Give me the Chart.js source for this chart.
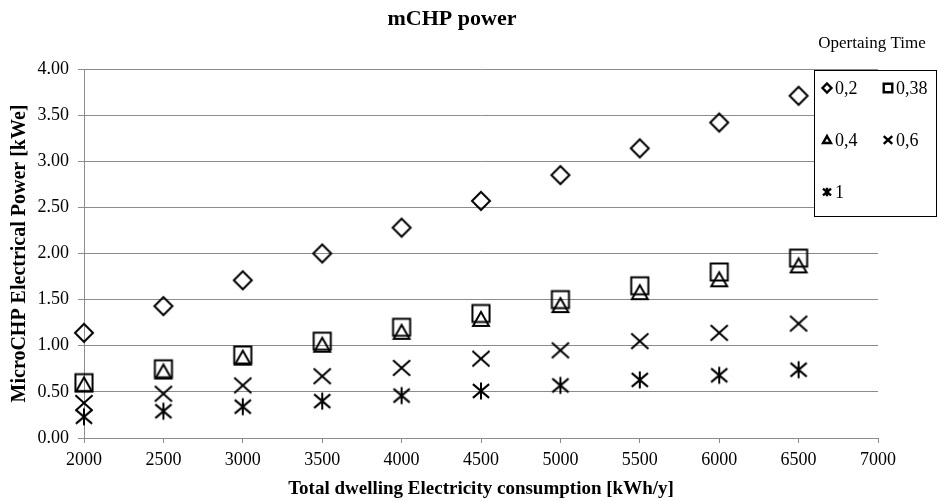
<!DOCTYPE html>
<html><head><meta charset="utf-8">
<script src="https://cdn.jsdelivr.net/npm/chart.js@4/dist/chart.umd.min.js"></script>
<style>html,body{margin:0;padding:0;background:#fff}#wrap{width:938px;height:501px}</style>
</head><body><div id="wrap"><canvas id="c" width="938" height="501"></canvas></div>
<script>
const consumption = [2000, 2500, 3000, 3500, 4000, 4500, 5000, 5500, 6000, 6500];
const seriesNames = ["0,2", "0,38", "0,4", "0,6", "1"];
const power_02  = [1.14, 1.43, 1.71, 2.00, 2.28, 2.57, 2.85, 3.14, 3.42, 3.71];
const power_038 = [0.60, 0.75, 0.90, 1.05, 1.20, 1.35, 1.50, 1.65, 1.80, 1.95];
const power_04  = [0.57, 0.71, 0.86, 1.00, 1.14, 1.28, 1.43, 1.57, 1.71, 1.86];
const power_06  = [0.38, 0.48, 0.57, 0.67, 0.76, 0.86, 0.95, 1.05, 1.14, 1.24];
const power_1   = [0.23, 0.29, 0.34, 0.40, 0.46, 0.51, 0.57, 0.63, 0.68, 0.74];
const legendTitle = "Opertaing Time";

function drawShape(ctx, shape, cx, cy, r) {
  ctx.beginPath();
  if (shape === 'diamond') {
    ctx.moveTo(cx, cy - r); ctx.lineTo(cx + r, cy); ctx.lineTo(cx, cy + r); ctx.lineTo(cx - r, cy); ctx.closePath();
  } else if (shape === 'square') {
    const s = r * 0.95;
    ctx.rect(cx - s, cy - s, 2 * s, 2 * s);
  } else if (shape === 'triangle') {
    const s = r * 0.88;
    ctx.moveTo(cx, cy - s); ctx.lineTo(cx + s, cy + s * 0.75); ctx.lineTo(cx - s, cy + s * 0.75); ctx.closePath();
  } else if (shape === 'x') {
    const s = r * 0.95;
    ctx.moveTo(cx - s, cy - s * 0.9); ctx.lineTo(cx + s, cy + s * 0.9);
    ctx.moveTo(cx + s, cy - s * 0.9); ctx.lineTo(cx - s, cy + s * 0.9);
  } else if (shape === 'star') {
    const s = r * 0.9;
    ctx.moveTo(cx - s, cy - s * 0.85); ctx.lineTo(cx + s, cy + s * 0.85);
    ctx.moveTo(cx + s, cy - s * 0.85); ctx.lineTo(cx - s, cy + s * 0.85);
    ctx.moveTo(cx, cy - s * 1.05); ctx.lineTo(cx, cy + s * 1.05);
  }
  ctx.stroke();
}
function makeMarker(shape, size, lw) {
  const c = document.createElement('canvas');
  c.width = size; c.height = size;
  const ctx = c.getContext('2d');
  ctx.strokeStyle = '#000'; ctx.lineWidth = lw; ctx.lineJoin = 'miter';
  drawShape(ctx, shape, size / 2, size / 2, 9);
  return c;
}
const shapes = ['diamond', 'square', 'triangle', 'x', 'star'];
const allSeries = [power_02, power_038, power_04, power_06, power_1];

const datasets = allSeries.map((vals, i) => ({
  label: seriesNames[i],
  data: consumption.map((x, j) => ({ x: x, y: vals[j] })),
  pointStyle: makeMarker(shapes[i], 24, 2),
  showLine: false,
  clip: false
}));

const serif = "'Liberation Serif', 'Times New Roman', serif";
const gridCol = '#8c8c8c';

const legendPlugin = {
  id: 'boxLegend',
  afterDraw(chart) {
    const ctx = chart.ctx;
    ctx.save();
    const bx = 814.5, by = 70.5, bw = 122, bh = 146;
    ctx.fillStyle = '#fff';
    ctx.fillRect(bx, by, bw, bh);
    ctx.strokeStyle = '#000'; ctx.lineWidth = 1;
    ctx.strokeRect(bx, by, bw, bh);
    ctx.fillStyle = '#000';
    ctx.font = '17px ' + serif;
    ctx.textBaseline = 'middle';
    ctx.textAlign = 'center';
    ctx.fillText(legendTitle, 872, 44);
    ctx.font = '18px ' + serif;
    ctx.textAlign = 'left';
    const pos = [[827, 88], [888, 88], [827, 140], [888, 140], [827, 192]];
    seriesNames.forEach((n, i) => {
      const [mx, my] = pos[i];
      ctx.strokeStyle = '#000'; ctx.lineWidth = 2.4;
      drawShape(ctx, shapes[i], mx, my, 4.5);
      ctx.fillText(n, mx + 8, my + 1);
    });
    ctx.restore();
  }
};

new Chart(document.getElementById('c'), {
  type: 'scatter',
  data: { datasets: datasets },
  plugins: [legendPlugin],
  options: {
    responsive: false,
    animation: false,
    layout: { padding: { left: 26, right: 60, top: 0, bottom: 0 } },
    plugins: {
      legend: { display: false },
      tooltip: { enabled: false },
      title: {
        display: true,
        text: 'mCHP power',
        color: '#000',
        font: { family: serif, size: 22, weight: 'bold', lineHeight: 1.2 },
        padding: { top: 6.5, bottom: 36.1 }
      }
    },
    scales: {
      x: {
        type: 'linear', min: 2000, max: 7000,
        afterFit(s) { s.height = 63; },
        ticks: { stepSize: 500, color: '#000', font: { family: serif, size: 18 }, padding: 6, maxRotation: 0,
          callback: v => String(v) },
        grid: { drawOnChartArea: false, drawTicks: true, tickLength: 5, color: gridCol },
        border: { color: gridCol, width: 1 },
        title: { display: true, text: 'Total dwelling Electricity consumption [kWh/y]', color: '#000',
          font: { family: serif, size: 19, weight: 'bold', lineHeight: 1.2 }, padding: { top: 0, bottom: 1 } }
      },
      y: {
        min: 0, max: 4,
        afterFit(s) { s.width = 58; },
        ticks: { stepSize: 0.5, color: '#000', font: { family: serif, size: 18 }, padding: 9,
          callback: v => Number(v).toFixed(2) },
        grid: { color: gridCol, drawTicks: true, tickLength: 6, lineWidth: 1 },
        border: { color: gridCol, width: 1 },
        title: { display: true, text: 'MicroCHP Electrical Power [kWe]', color: '#000',
          font: { family: serif, size: 20, weight: 'bold', lineHeight: 1.2 }, padding: { top: -18, bottom: 0 } }
      }
    }
  }
});
</script>
</body></html>
